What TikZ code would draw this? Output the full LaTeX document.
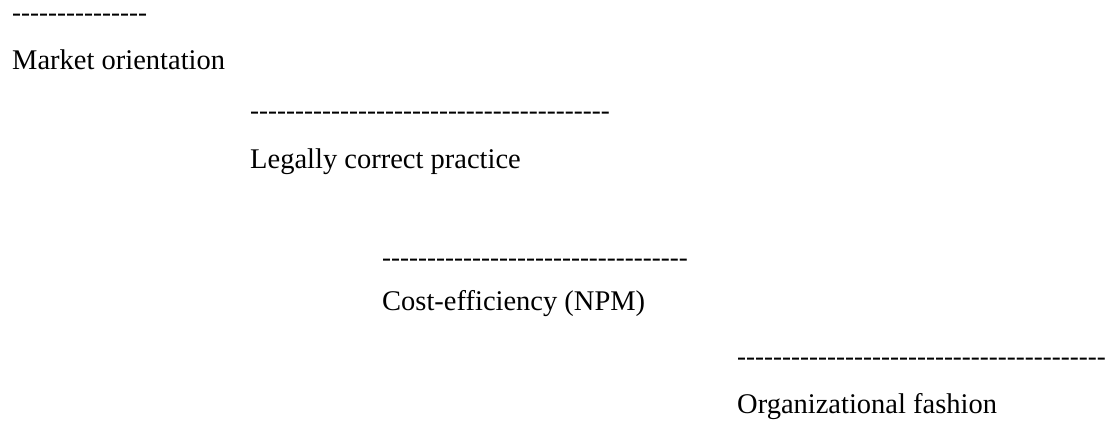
\documentclass[tikz,border=0pt]{standalone}
\usepackage{fontspec}
\setmainfont{Liberation Serif}
\newcommand{\hyrow}[1]{\foreach \k in {1,...,#1}{-}}
\tikzset{
  lbl/.style={anchor=base west, inner sep=0pt, font=\fontsize{28.5}{34}\selectfont},
  dashrow/.style={anchor=base west, inner sep=0pt, font=\fontsize{27}{32}\selectfont\itshape}
}
\begin{document}
\begin{tikzpicture}[x=1pt,y=-1pt]
\useasboundingbox (0,0) rectangle (1110,423);
\node[dashrow] (d1) at (12,21) {\hyrow{15}};
\node[lbl] (t1) at (12,69) {Market orientation};
\node[dashrow] (d2) at (250,119) {\hyrow{40}};
\node[lbl] (t2) at (250,168) {Legally correct practice};
\node[dashrow] (d3) at (382,266) {\hyrow{34}};
\node[lbl] (t3) at (382,310) {Cost-efficiency (NPM)};
\node[dashrow] (d4) at (737,365) {\hyrow{41}};
\node[lbl] (t4) at (737,413) {Organizational fashion};
\end{tikzpicture}
\end{document}
